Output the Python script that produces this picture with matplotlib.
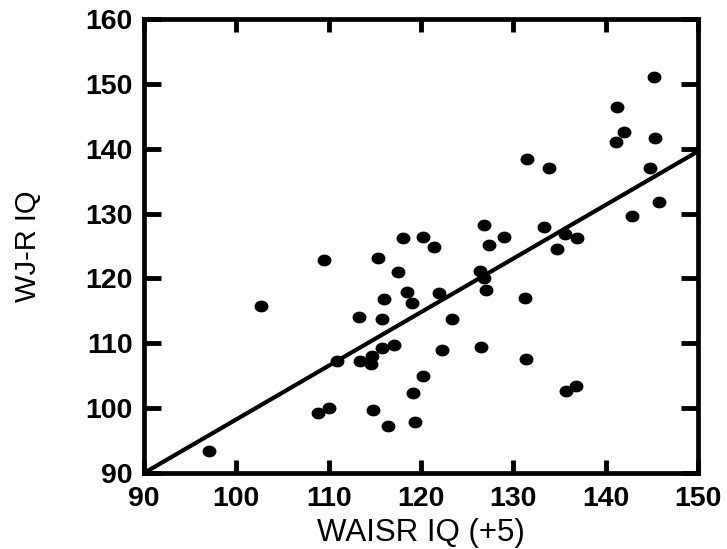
import numpy as np
import matplotlib
matplotlib.use("Agg")
import matplotlib.pyplot as plt
from matplotlib.path import Path

# scores
waisr_iq = [145.2, 141.2, 142.0, 141.1, 145.3, 131.5, 133.9, 144.8, 145.8, 142.9,
            126.8, 133.3, 129.0, 127.4, 135.6, 136.9, 134.7, 120.2, 121.4, 126.4,
            126.8, 127.0, 122.0, 131.3, 123.4, 122.3, 126.5, 131.4, 120.2, 135.7,
            136.8, 118.1, 109.5, 115.3, 117.5, 102.7, 118.5, 119.0, 116.0, 113.3,
            115.8, 117.1, 115.8, 114.7, 110.9, 113.4, 114.6, 119.1, 110.0, 108.8,
            114.8, 116.4, 119.3, 97.0]
wjr_iq = [151.0, 146.4, 142.6, 141.1, 141.7, 138.4, 137.0, 137.0, 131.8, 129.7,
          128.2, 128.0, 126.4, 125.2, 126.8, 126.2, 124.6, 126.4, 124.8, 121.1,
          120.1, 118.2, 117.8, 117.0, 113.8, 108.9, 109.5, 107.6, 105.0, 102.7,
          103.4, 126.3, 122.8, 123.1, 121.0, 115.7, 117.9, 116.2, 116.8, 114.1,
          113.8, 109.7, 109.2, 108.0, 107.3, 107.2, 106.8, 102.3, 100.0, 99.2,
          99.7, 97.3, 97.8, 93.4]

# regression line end points
fit_x = [90, 150]
fit_y = [90, 139.6]

x_ticks = [90, 100, 110, 120, 130, 140, 150]
y_ticks = [90, 100, 110, 120, 130, 140, 150, 160]

# slightly oval dot, like the scanned original
t = np.linspace(0, 2 * np.pi, 40)
oval = Path(np.column_stack([1.2 * np.cos(t), np.sin(t)]), closed=True)

fig = plt.figure(figsize=(7.27, 5.49), dpi=100)
ax = fig.add_axes([144 / 727, 1 - 473 / 549, 554 / 727, 454 / 549])

ax.plot(fit_x, fit_y, color="black", lw=3.0, solid_capstyle="butt", zorder=2)
ax.plot(waisr_iq, wjr_iq, linestyle="none", marker=oval, markersize=9,
        color="black", zorder=3)

ax.set_xlim(90, 150)
ax.set_ylim(90, 160)
ax.set_xticks(x_ticks)
ax.set_yticks(y_ticks)

for s in ax.spines.values():
    s.set_linewidth(3.4)

tick_font = {"family": "Liberation Sans", "weight": "bold", "size": 20.5}
ax.set_xticklabels([str(v) for v in x_ticks], fontdict=tick_font)
ax.set_yticklabels([str(v) for v in y_ticks], fontdict=tick_font)
ax.tick_params(axis="x", direction="in", length=9.5, width=3.5, pad=9,
               top=True)
ax.tick_params(axis="y", direction="in", length=12, width=3.5, pad=8,
               right=True)

ax.set_xlabel("WAISR IQ (+5)", family="Liberation Sans", size=22.5, va="center")
ax.set_ylabel("WJ-R IQ", family="Liberation Sans", size=21, va="center")
ax.xaxis.set_label_coords(0.5, (473 - 533) / 454)
ax.yaxis.set_label_coords((28 - 144) / 554, 0.5)

fig.savefig("out.png", dpi=100)
